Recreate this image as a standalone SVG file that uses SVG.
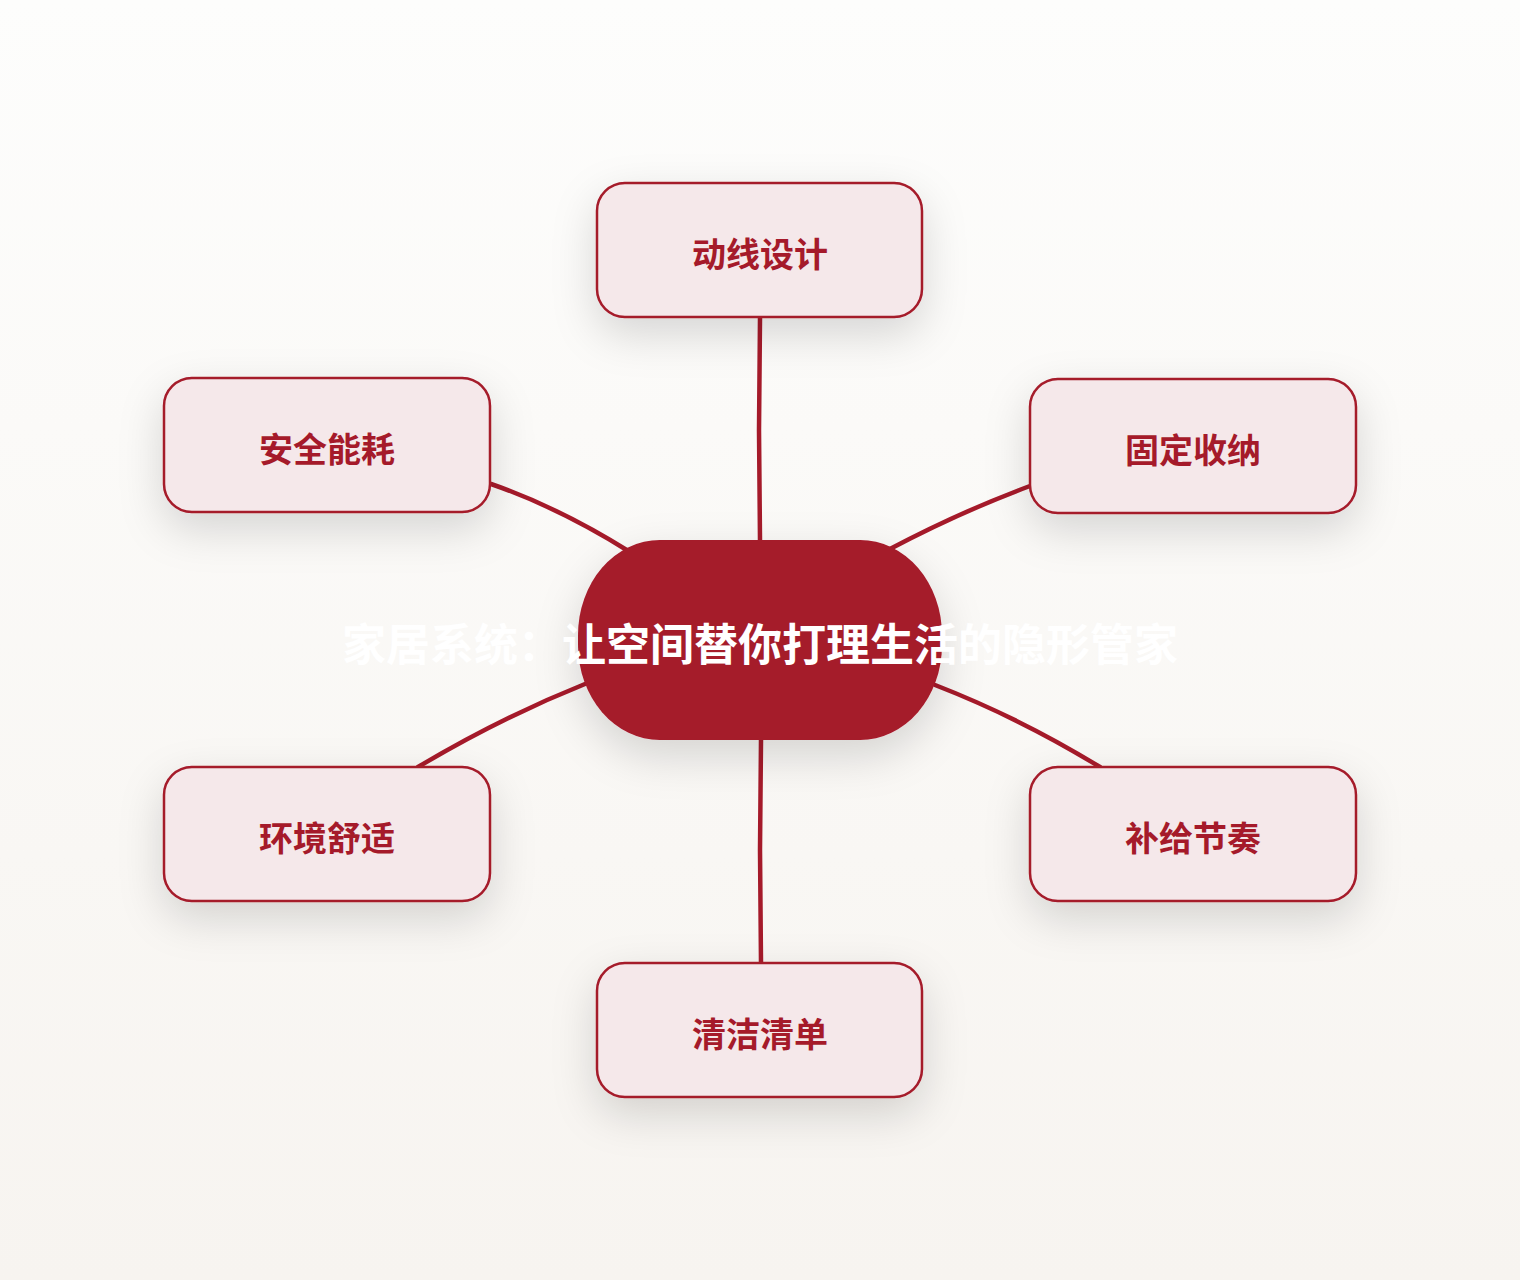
<svg xmlns="http://www.w3.org/2000/svg" width="1520" height="1280" viewBox="0 0 1520 1280">
<defs>
<linearGradient id="bg" x1="0" y1="0" x2="0" y2="1">
<stop offset="0" stop-color="#FDFDFC"/>
<stop offset="1" stop-color="#F7F4F0"/>
</linearGradient>
<filter id="sh" x="-50%" y="-50%" width="200%" height="220%">
<feDropShadow dx="0" dy="16" stdDeviation="22" flood-color="#000" flood-opacity="0.15"/>
</filter>
<style>
.node rect{fill:#F5E8EA;stroke:#A51A2A;stroke-width:2.5}
.node text{font-family:"Noto Sans CJK SC","Noto Sans",sans-serif;font-weight:700;font-size:34px;fill:#A51A2A;text-anchor:middle;dominant-baseline:central}
.conn path{fill:none;stroke:#A51A2A;stroke-width:4.5;stroke-linecap:round}
.center rect{fill:#A51A2A}
.center text{font-family:"Noto Sans CJK SC","Noto Sans",sans-serif;font-weight:700;font-size:44px;fill:#FFFFFF;text-anchor:middle;dominant-baseline:central}
</style>
</defs>
<rect width="1520" height="1280" fill="url(#bg)"/>
<g class="conn">
<path d="M760 318 L759 430 L760 540"/>
<path d="M491 484 Q560 508 630 552"/>
<path d="M1030 486 Q960 512 888 550"/>
<path d="M585 684 Q500 718 418 767"/>
<path d="M935 685 Q1020 718 1100 767"/>
<path d="M761 740 L760 850 L761 963"/>
</g>
<g id="center" class="center">
<rect x="578" y="540" width="364" height="200" rx="82" ry="95" filter="url(#sh)"/>
<text x="760" y="642">家居系统：让空间替你打理生活的隐形管家</text>
</g>
<g id="n1" class="node">
<rect x="597" y="183" width="325" height="134" rx="28" filter="url(#sh)"/>
<text x="760" y="252">动线设计</text>
</g>
<g id="n2" class="node">
<rect x="164" y="378" width="326" height="134" rx="28" filter="url(#sh)"/>
<text x="327" y="447">安全能耗</text>
</g>
<g id="n3" class="node">
<rect x="1030" y="379" width="326" height="134" rx="28" filter="url(#sh)"/>
<text x="1193" y="448">固定收纳</text>
</g>
<g id="n4" class="node">
<rect x="164" y="767" width="326" height="134" rx="28" filter="url(#sh)"/>
<text x="327" y="836">环境舒适</text>
</g>
<g id="n5" class="node">
<rect x="1030" y="767" width="326" height="134" rx="28" filter="url(#sh)"/>
<text x="1193" y="836">补给节奏</text>
</g>
<g id="n6" class="node">
<rect x="597" y="963" width="325" height="134" rx="28" filter="url(#sh)"/>
<text x="760" y="1032">清洁清单</text>
</g>
</svg>
